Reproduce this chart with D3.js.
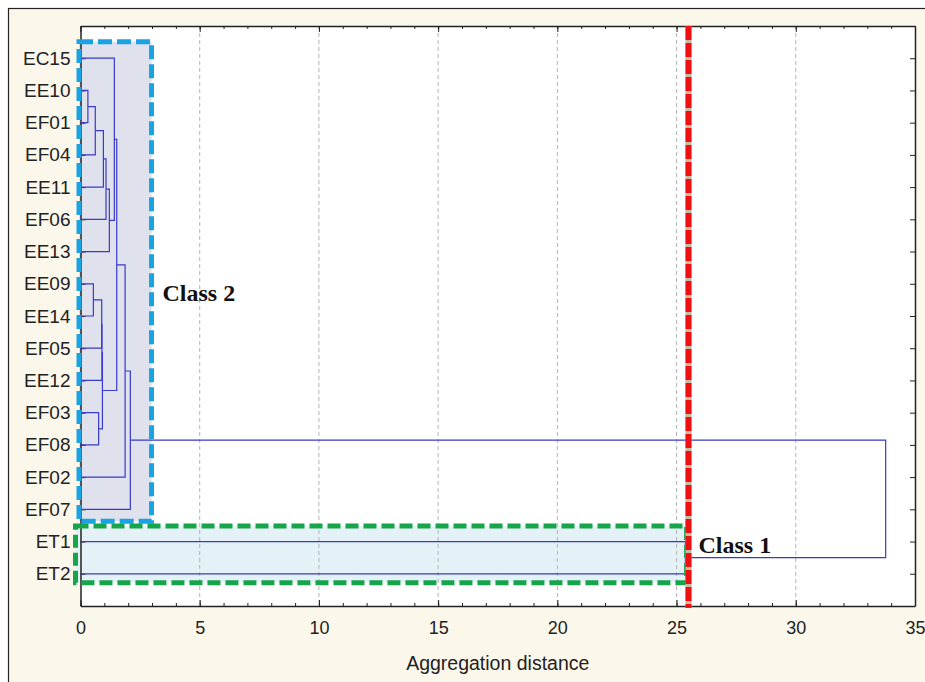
<!DOCTYPE html>
<html>
<head>
<meta charset="utf-8">
<script src="https://cdn.jsdelivr.net/npm/d3@7"></script>
<style>
  body { margin: 0; background: #fff; }
  text { font-family: "Liberation Sans", Arial, sans-serif; fill: #222; }
  .cls { font-family: "Liberation Serif", "Times New Roman", serif; font-weight: bold; fill: #111; }
</style>
</head>
<body>
<div id="chart-area"></div>
<script>
const canvas_width = 925;
const canvas_height = 682;

// leaf order, top to bottom
const leaves = ['EC15', 'EE10', 'EF01', 'EF04', 'EE11', 'EF06', 'EE13', 'EE09', 'EE14',
                'EF05', 'EE12', 'EF03', 'EF08', 'EF02', 'EF07', 'ET1', 'ET2'];

// linkage steps: cluster c1, c2, ... joins mergeLeft[i] and mergeRight[i] at mergeDist[i]
const mergeLeft  = ['EE10', 'c1', 'c2', 'c3', 'c4', 'EC15', 'EE09', 'c7', 'c8', 'EF03', 'c9', 'c6', 'c12', 'c13', 'ET1', 'c14'];
const mergeRight = ['EF01', 'EF04', 'EE11', 'EF06', 'EE13', 'c5', 'EE14', 'EF05', 'EE12', 'EF08', 'c10', 'c11', 'EF02', 'EF07', 'ET2', 'c15'];
const mergeDist  = [0.31, 0.62, 0.96, 1.07, 1.21, 1.42, 0.54, 0.89, 0.90, 0.76, 0.92, 1.52, 1.87, 2.09, 25.37, 33.77];

const class2Leaves = ['EC15', 'EF07'];
const class2Dist = 3.0;
const class1Leaves = ['ET1', 'ET2'];
const class1Dist = 25.4;
const cutDistance = 25.5;

const xMajorTicks = [0, 5, 10, 15, 20, 25, 30, 35];
const xMinorTicks = d3.range(0, 36, 1);
const x_axis_label = 'Aggregation distance';

const plot = { left: 80.5, right: 915, top: 26, bottom: 606 };

let svg = d3.select('#chart-area').append('svg')
    .attr('width', canvas_width)
    .attr('height', canvas_height);

// outer frame
svg.append('rect').attr('x', 0).attr('y', 0).attr('width', canvas_width).attr('height', canvas_height).attr('fill', '#fff');
svg.append('rect').attr('x', 8.5).attr('y', 8.5).attr('width', canvas_width).attr('height', canvas_height)
    .attr('fill', '#fcf7eb').attr('stroke', '#222').attr('stroke-width', 1.2);

svg.append('rect')
    .attr('x', plot.left).attr('y', plot.top)
    .attr('width', plot.right - plot.left).attr('height', plot.bottom - plot.top)
    .attr('fill', '#fff');

let x = d3.scaleLinear().domain([0, 35]).range([plot.left, plot.right]);
let y = d3.scalePoint().domain(leaves).range([plot.top, plot.bottom]).padding(1);

// class boxes (fills)
const b2 = { x0: x(0) - 1.5, x1: x(class2Dist) - 0.5, y0: y(class2Leaves[0]) - 16.5, y1: y(class2Leaves[1]) + 12 };
const b1 = { x0: x(0) - 5, x1: x(class1Dist) + 0.5, y0: y(class1Leaves[0]) - 15.5, y1: y(class1Leaves[1]) + 9 };

svg.append('rect').attr('x', b2.x0).attr('y', b2.y0).attr('width', b2.x1 - b2.x0).attr('height', b2.y1 - b2.y0)
    .attr('fill', '#dfe1ed');
svg.append('rect').attr('x', b1.x0).attr('y', b1.y0).attr('width', b1.x1 - b1.x0).attr('height', b1.y1 - b1.y0)
    .attr('fill', '#e4f2f7');

// grid
svg.append('g').selectAll('line').data(xMajorTicks.filter((d) => d > 0 && d < 35)).enter().append('line')
    .attr('x1', (d) => x(d)).attr('x2', (d) => x(d))
    .attr('y1', plot.top).attr('y2', plot.bottom)
    .attr('stroke', '#b4b4b4').attr('stroke-width', 1).attr('stroke-dasharray', '4,3');

// axes
svg.append('g').attr('transform', `translate(0, ${plot.bottom})`)
    .call(d3.axisBottom(x).tickValues(xMinorTicks).tickSize(-3).tickFormat(''))
    .call((g) => g.select('.domain').remove());
let bottomAxis = svg.append('g').attr('class', 'bottom axis')
    .attr('transform', `translate(0, ${plot.bottom})`)
    .call(d3.axisBottom(x).tickValues(xMajorTicks).tickSize(-6).tickPadding(15).tickSizeOuter(0));
bottomAxis.selectAll('text').attr('font-size', '18px').attr('font-family', '"Liberation Sans", Arial, sans-serif').attr('fill', '#222');

svg.append('g').attr('transform', `translate(0, ${plot.top})`)
    .call(d3.axisTop(x).tickValues(xMinorTicks).tickSize(-3).tickFormat(''))
    .call((g) => g.select('.domain').remove());
svg.append('g').attr('transform', `translate(0, ${plot.top})`)
    .call(d3.axisTop(x).tickValues(xMajorTicks).tickSize(-6).tickFormat('').tickSizeOuter(0));

let leftAxis = svg.append('g').attr('class', 'left axis')
    .attr('transform', `translate(${plot.left}, 0)`)
    .call(d3.axisLeft(y).tickSize(-5).tickPadding(10).tickSizeOuter(0));
leftAxis.selectAll('text').attr('font-size', '19px').attr('font-family', '"Liberation Sans", Arial, sans-serif').attr('fill', '#222');

svg.append('g').attr('transform', `translate(${plot.right}, 0)`)
    .call(d3.axisRight(y).tickSize(-5).tickFormat('').tickSizeOuter(0));

svg.selectAll('.domain, .tick line').attr('stroke', '#222');
svg.selectAll('.domain').attr('stroke-width', 1.5);

// dendrogram
let nodes = {};
leaves.forEach((d) => { nodes[d] = { x: x(0), y: y(d) }; });
let links = [];
mergeLeft.forEach((a, i) => {
    let na = nodes[a], nb = nodes[mergeRight[i]];
    let xm = x(mergeDist[i]);
    links.push(`M${na.x},${na.y}H${xm}V${nb.y}H${nb.x}`);
    nodes['c' + (i + 1)] = { x: xm, y: (na.y + nb.y) / 2 };
});

svg.append('g').selectAll('path').data(links).enter().append('path')
    .attr('d', (d) => d)
    .attr('fill', 'none')
    .attr('stroke', '#3a3ac8')
    .attr('stroke-width', 1.2);

// class box outlines
svg.append('rect').attr('x', b2.x0).attr('y', b2.y0).attr('width', b2.x1 - b2.x0).attr('height', b2.y1 - b2.y0)
    .attr('fill', 'none').attr('stroke', '#1aa3e3').attr('stroke-width', 5).attr('stroke-dasharray', '14,5');
svg.append('rect').attr('x', b1.x0).attr('y', b1.y0).attr('width', b1.x1 - b1.x0).attr('height', b1.y1 - b1.y0)
    .attr('fill', 'none').attr('stroke', '#17a54b').attr('stroke-width', 5).attr('stroke-dasharray', '13,5');

// cut line
svg.append('line').attr('x1', x(cutDistance)).attr('x2', x(cutDistance))
    .attr('y1', plot.top).attr('y2', plot.bottom + 2)
    .attr('stroke', '#c8b8a8').attr('stroke-width', 6);
svg.append('line').attr('x1', x(cutDistance)).attr('x2', x(cutDistance))
    .attr('y1', plot.top).attr('y2', plot.bottom + 2)
    .attr('stroke', '#ee1111').attr('stroke-width', 6).attr('stroke-dasharray', '14,3');

svg.append('text')
    .attr('x', (plot.left + plot.right) / 2)
    .attr('y', 670)
    .attr('font-size', '19.5px')
    .attr('text-anchor', 'middle')
    .text(x_axis_label);

svg.append('text').attr('class', 'cls').attr('x', b2.x1 + 11).attr('y', 301).attr('font-size', '24px').text('Class 2');
svg.append('text').attr('class', 'cls').attr('x', x(cutDistance) + 10).attr('y', 553).attr('font-size', '24px').text('Class 1');
</script>
</body>
</html>
